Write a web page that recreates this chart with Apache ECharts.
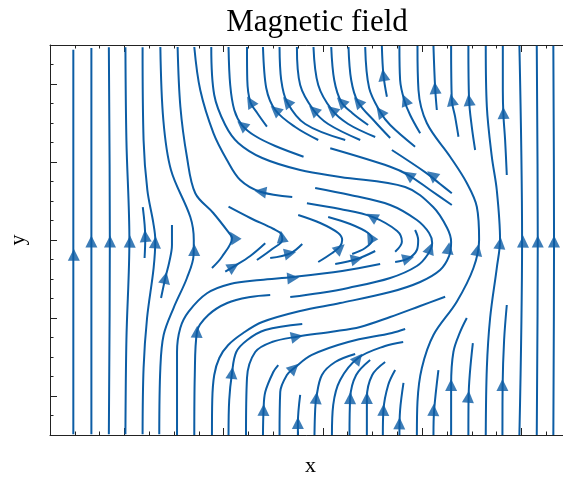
<!DOCTYPE html>
<html>
<head>
<meta charset="utf-8">
<script src="https://cdn.jsdelivr.net/npm/echarts@6/dist/echarts.min.js"></script>
<style>
  html, body { margin: 0; padding: 0; background: #ffffff; }
  #chart { width: 563px; height: 477px; }
</style>
</head>
<body>
<div id="chart"></div>
<script>
// Axis extents and tick positions
const xRange = [-0.75, 4.5];
const yRange = [-2.5, 2.5];
const xMajorTicks = [0, 1, 2, 3, 4];
const xMinorTicks = [-0.5, -0.25, 0.25, 0.5, 0.75, 1.25, 1.5, 1.75, 2.25, 2.5, 2.75, 3.25, 3.5, 3.75, 4.25];
const yMajorTicks = [-2, -1, 0, 1, 2];
const yMinorTicks = [-2.25, -1.75, -1.5, -1.25, -0.75, -0.5, -0.25, 0.25, 0.5, 0.75, 1.25, 1.5, 1.75, 2.25];

// Field lines on the left flank (nearly straight)
const leftLines = [
  [[-0.515, -2.49], [-0.515, 2.44]],
  [[-0.333, -2.49], [-0.333, 2.46]],
  [[-0.157, -2.49], [-0.147, 0], [-0.157, 2.47]],
  [[0.01, -2.49], [0.02, -1.28], [0.05, 0], [0.02, 1.28], [0.01, 2.47]],
  [[0.183, -2.49], [0.193, -1.64], [0.228, -1.0], [0.294, -0.36], [0.311, 0], [0.291, 0.22], [0.231, 0.64], [0.193, 1.28], [0.183, 2.47]],
  [[0.203, -0.231], [0.21, 0.026], [0.185, 0.423]],
  [[0.351, -2.49], [0.362, -1.64], [0.395, -1.218], [0.495, -0.872], [0.63, -0.487], [0.697, -0.192], [0.699, 0], [0.664, 0.295], [0.469, 0.897], [0.392, 1.538], [0.362, 2.474]],
  [[0.369, -0.744], [0.412, -0.487], [0.452, -0.282], [0.479, -0.064], [0.479, 0.192]],
  [[0.882, -0.359], [0.983, -0.214], [1.084, 0.026], [1.046, 0.103], [0.895, 0.346], [0.714, 0.599], [0.63, 1.064], [0.564, 1.705], [0.536, 2.474]]
];

// Field lines on the right flank
const rightLines = [
  [[4.322, -2.5], [4.329, 0], [4.322, 2.49]],
  [[4.155, -2.5], [4.165, 0], [4.155, 2.49]],
  [[3.98, -2.5], [4.007, 0], [3.98, 2.49]],
  [[3.641, -2.5], [3.652, -1.641], [3.685, -1.0], [3.752, -0.359], [3.785, 0], [3.752, 0.641], [3.702, 1.068], [3.652, 1.709], [3.641, 2.487]],
  [[2.947, -2.5], [2.953, -2.073], [2.997, -1.641], [3.114, -1.218], [3.349, -0.791], [3.517, -0.359], [3.574, 0], [3.551, 0.427], [3.45, 0.731], [3.282, 1.068], [3.047, 1.5], [2.963, 1.923], [2.953, 2.487]],
  [[3.853, 0.833], [3.836, 1.282], [3.819, 1.603], [3.813, 1.923], [3.813, 2.487]],
  [[3.809, -2.5], [3.811, -1.859], [3.826, -1.282], [3.853, -0.833]],
  [[3.534, 1.154], [3.5, 1.453], [3.473, 1.795], [3.466, 2.487]],
  [[3.366, 1.324], [3.332, 1.581], [3.299, 1.795], [3.292, 2.487]],
  [[3.148, 1.667], [3.131, 1.949], [3.114, 2.487]],
  [[2.98, 1.368], [2.879, 1.603], [2.819, 1.795], [2.778, 2.051], [2.771, 2.487]],
  [[2.771, -2.5], [2.778, -2.179], [2.812, -1.833]],
  [[3.114, -2.5], [3.121, -2.179], [3.164, -1.667]],
  [[3.292, -2.5], [3.292, -1.859], [3.315, -1.436], [3.383, -1.179], [3.45, -1.0]],
  [[3.466, -2.5], [3.468, -2.013], [3.511, -1.321]]
];

// Field lines entering from the top edge in the middle band
const upperLines = [
  [[1.805, 1.068], [1.52, 1.205], [1.318, 1.333], [1.184, 1.474], [1.107, 1.667], [1.066, 1.987], [1.049, 2.474]],
  [[1.436, 1.453], [1.338, 1.628], [1.268, 1.773], [1.238, 2.051], [1.235, 2.474]],
  [[1.953, 1.282], [1.721, 1.449], [1.52, 1.667], [1.429, 1.949], [1.396, 2.474]],
  [[2.225, 1.282], [1.822, 1.487], [1.637, 1.773], [1.58, 2.051], [1.563, 2.474]],
  [[2.376, 1.282], [2.053, 1.487], [1.905, 1.667], [1.771, 1.987], [1.738, 2.474]],
  [[2.527, 1.321], [2.255, 1.487], [2.091, 1.667], [1.953, 1.987], [1.905, 2.474]],
  [[2.456, 1.474], [2.295, 1.628], [2.184, 1.773], [2.114, 2.051], [2.084, 2.474]],
  [[2.678, 1.308], [2.527, 1.513], [2.352, 1.773], [2.285, 2.051], [2.258, 2.474]],
  [[2.929, 1.196], [2.678, 1.474], [2.577, 1.645], [2.466, 1.949], [2.426, 2.474]],
  [[2.645, 1.837], [2.61, 2.115], [2.594, 2.487]],
  [[1.691, 0.551], [1.369, 0.619], [1.167, 0.769], [1.033, 1.026], [0.898, 1.368], [0.764, 1.923], [0.704, 2.474]],
  [[3.299, 0.449], [3.081, 0.641], [2.862, 0.833], [2.678, 0.94], [2.074, 1.176]],
  [[3.299, 0.599], [3.181, 0.718], [3.047, 0.855], [2.695, 1.154]]
];

// Field lines entering from the bottom edge in the middle band
const lowerLines = [
  [[0.53, -2.5], [0.53, -1.436], [0.563, -1.128], [0.647, -0.919], [0.832, -0.683], [1.066, -0.564], [1.369, -0.513], [1.701, -0.474], [2.194, -0.397], [2.577, -0.308]],
  [[0.704, -2.5], [0.709, -1.731], [0.731, -1.176], [0.845, -0.962], [1.036, -0.808], [1.268, -0.731], [1.469, -0.705]],
  [[1.049, -2.5], [1.056, -2.051], [1.084, -1.705], [1.127, -1.436], [1.238, -1.282], [1.419, -1.154], [1.792, -1.077]],
  [[1.225, -2.5], [1.235, -1.769], [1.318, -1.436], [1.486, -1.308], [1.738, -1.24], [2.091, -1.176], [2.376, -1.115], [2.678, -0.987], [2.98, -0.846], [3.232, -0.727]],
  [[1.396, -2.5], [1.402, -2.179], [1.419, -1.949], [1.5, -1.692], [1.55, -1.603]],
  [[1.563, -2.5], [1.57, -1.949], [1.637, -1.731], [1.711, -1.641], [1.889, -1.474], [2.255, -1.308], [2.695, -1.192], [2.829, -1.141]],
  [[1.748, -2.5], [1.748, -2.346], [1.771, -1.987]],
  [[1.915, -2.5], [1.922, -2.179], [1.933, -2.026], [1.99, -1.731], [2.124, -1.564], [2.325, -1.462]],
  [[2.091, -2.5], [2.104, -2.115], [2.174, -1.795], [2.355, -1.513], [2.627, -1.359], [2.809, -1.308]],
  [[2.268, -2.5], [2.275, -2.026], [2.335, -1.731], [2.476, -1.538]],
  [[2.443, -2.5], [2.443, -2.026], [2.497, -1.731], [2.627, -1.564]],
  [[2.604, -2.5], [2.61, -2.179], [2.658, -1.859], [2.728, -1.667]]
];

// Field lines folding round the central band (each turns at its rightmost point)
const foldLines = [
  [[0.882, -2.5], [0.885, -2.051], [0.905, -1.731], [0.956, -1.513], [1.046, -1.346], [1.197, -1.192], [1.389, -1.051], [1.771, -0.91], [2.174, -0.808], [2.678, -0.667], [2.98, -0.538], [3.181, -0.385], [3.272, -0.205], [3.292, -0.026], [3.252, 0.154], [3.111, 0.423], [2.829, 0.679], [2.174, 0.808], [1.771, 0.897], [1.389, 1.051], [1.147, 1.244], [1.016, 1.474], [0.905, 1.859], [0.875, 2.474]],
  [[1.671, -0.731], [1.973, -0.679], [2.255, -0.615], [2.678, -0.487], [2.947, -0.333], [3.06, -0.179], [3.101, -0.038], [3.07, 0.09], [2.947, 0.256], [2.678, 0.449], [2.275, 0.577], [1.922, 0.667]],
  [[2.728, -0.282], [2.862, -0.235], [2.947, -0.128], [2.96, 0], [2.929, 0.128]],
  [[2.728, -0.15], [2.796, -0.022], [2.748, 0.115], [2.493, 0.299], [2.174, 0.397], [1.839, 0.471]],
  [[2.295, -0.179], [2.426, -0.103], [2.497, 0], [2.456, 0.09], [2.275, 0.205], [2.053, 0.295]],
  [[2.124, -0.308], [2.342, -0.244], [2.527, -0.141]],
  [[1.953, -0.282], [2.094, -0.167], [2.174, -0.077], [2.194, 0], [2.154, 0.09], [1.973, 0.218], [1.751, 0.321]],
  [[1.469, -0.231], [1.671, -0.171], [1.792, -0.051]],
  [[1.335, -0.256], [1.489, -0.115], [1.59, 0], [1.58, 0.077], [1.503, 0.141], [1.268, 0.282], [1.049, 0.427]],
  [[1.016, -0.406], [1.1, -0.342], [1.268, -0.205], [1.419, -0.042]]
];

// Arrow heads: [x, y], each oriented along the nearest field line
const arrowHeads = [
  [-0.51, -0.19], [-0.333, -0.02], [-0.145, -0.02], [0.055, -0.02], [0.311, -0.03], [0.21, 0.05],
  [0.704, -0.128], [0.412, -0.487], [1.097, 0.04],
  [4.329, -0.02], [4.165, -0.02], [4.017, -0.02], [3.785, -0.04], [3.557, -0.128],
  [3.819, 1.628], [3.809, -1.859], [3.473, 1.795], [3.299, 1.795], [3.131, 1.949], [2.829, 1.795],
  [2.771, -2.35], [3.114, -2.179], [3.292, -1.859], [3.466, -2.009],
  [1.184, 1.474], [1.268, 1.773], [1.52, 1.667], [1.637, 1.773], [1.905, 1.667], [2.091, 1.667],
  [2.184, 1.773], [2.352, 1.773], [2.577, 1.645], [2.61, 2.115], [1.369, 0.619], [2.862, 0.833], [3.098, 0.833],
  [1.701, -0.487], [0.731, -1.176], [1.084, -1.705], [1.738, -1.24], [1.402, -2.179], [1.711, -1.641],
  [1.748, -2.346], [1.933, -2.026], [2.357, -1.517], [2.275, -2.026], [2.443, -2.026], [2.61, -2.179],
  [3.265, -0.106], [3.081, -0.106], [2.862, -0.235], [2.493, 0.299], [2.476, 0.038], [2.342, -0.244],
  [2.174, -0.106], [1.671, -0.171], [1.586, 0.042], [1.1, -0.342]
];

const fieldLines = leftLines.concat(rightLines, upperLines, lowerLines, foldLines);

const lineColor = '#0C5DA5';
const axisColor = '#222222';
const serif = '"Liberation Serif", "DejaVu Serif", serif';

const chart = echarts.init(document.getElementById('chart'), null, { renderer: 'canvas', devicePixelRatio: 1 });

function makeXAxis(position, ticks, len, withLine, name) {
  return {
    type: 'value', min: xRange[0], max: xRange[1], position: position,
    axisLine: { show: withLine, onZero: false, lineStyle: { color: axisColor, width: 1 } },
    axisTick: { show: true, inside: true, length: len, customValues: ticks, lineStyle: { color: axisColor, width: 1 } },
    axisLabel: { show: false }, splitLine: { show: false },
    name: name || '', nameLocation: 'middle', nameGap: 20,
    nameTextStyle: { fontFamily: serif, fontSize: 22, color: '#000' }
  };
}
function makeYAxis(position, ticks, len, withLine, name) {
  return {
    type: 'value', min: yRange[0], max: yRange[1], position: position,
    axisLine: { show: withLine, onZero: false, lineStyle: { color: axisColor, width: 1 } },
    axisTick: { show: true, inside: true, length: len, customValues: ticks, lineStyle: { color: axisColor, width: 1 } },
    axisLabel: { show: false }, splitLine: { show: false },
    name: name || '', nameLocation: 'middle', nameGap: 21,
    nameTextStyle: { fontFamily: serif, fontSize: 22, color: '#000' }
  };
}

const lineSeries = fieldLines.map(pts => ({
  type: 'line', data: pts, xAxisIndex: 0, yAxisIndex: 0,
  showSymbol: false, smooth: 0.35, silent: true, animation: false,
  lineStyle: { color: lineColor, width: 2 }, z: 2
}));

chart.setOption({
  animation: false,
  grid: { left: 50, top: 45, width: 521, height: 390, containLabel: false, outerBoundsMode: 'none' },
  xAxis: [
    makeXAxis('bottom', xMajorTicks, 7, true, 'x'),
    makeXAxis('bottom', xMinorTicks, 3.5, false),
    makeXAxis('top', xMajorTicks, 7, true),
    makeXAxis('top', xMinorTicks, 3.5, false)
  ],
  yAxis: [
    makeYAxis('left', yMajorTicks, 7, true, 'y'),
    makeYAxis('left', yMinorTicks, 3.5, false),
    makeYAxis('right', yMajorTicks, 7, true),
    makeYAxis('right', yMinorTicks, 3.5, false)
  ],
  graphic: [{
    type: 'text', x: 317, y: 7,
    style: { text: 'Magnetic field', font: '31px ' + serif, textAlign: 'center', textVerticalAlign: 'top', fill: '#000' }
  }],
  series: lineSeries
});

// Orient each arrow head along the closest stretch of field line
const toPx = p => chart.convertToPixel({ xAxisIndex: 0, yAxisIndex: 0 }, p);
const pixelLines = fieldLines.map(pts => pts.map(toPx));

function localDirection(here) {
  let bestD = Infinity, dir = [0, -1];
  pixelLines.forEach(pix => {
    for (let i = 0; i < pix.length - 1; i++) {
      const a = pix[i], b = pix[i + 1];
      const dx = b[0] - a[0], dy = b[1] - a[1];
      const L = dx * dx + dy * dy || 1;
      let t = ((here[0] - a[0]) * dx + (here[1] - a[1]) * dy) / L;
      t = Math.max(0, Math.min(1, t));
      const qx = a[0] + t * dx - here[0], qy = a[1] + t * dy - here[1];
      const d = qx * qx + qy * qy;
      if (d < bestD) { bestD = d; dir = [dx, dy]; }
    }
  });
  return dir;
}

const arrowData = arrowHeads.map(p => {
  const d = localDirection(toPx(p));
  return { value: p, symbolRotate: Math.atan2(-d[0], -d[1]) * 180 / Math.PI };
});

chart.setOption({
  series: lineSeries.concat([{
    type: 'scatter', data: arrowData, xAxisIndex: 0, yAxisIndex: 0,
    symbol: 'triangle', symbolSize: [12, 12], silent: true, animation: false,
    itemStyle: { color: lineColor }, z: 3
  }])
});
</script>
</body>
</html>
